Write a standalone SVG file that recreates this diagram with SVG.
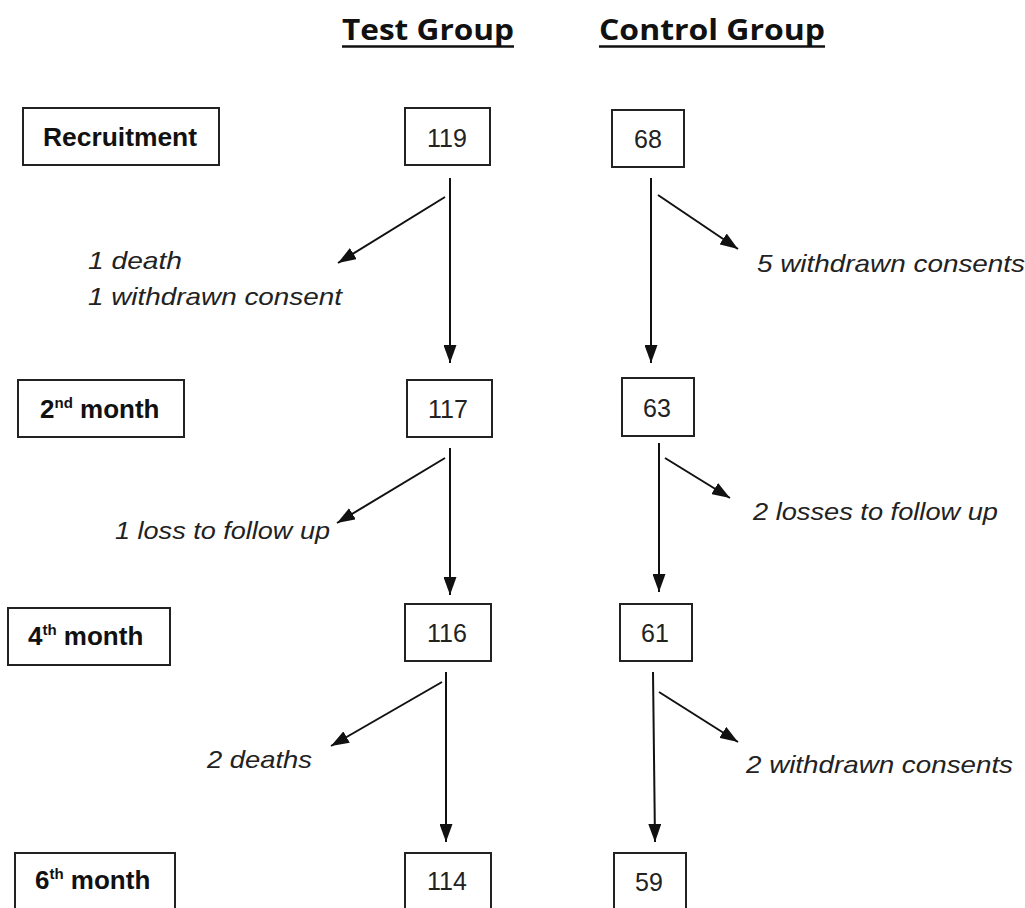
<svg xmlns="http://www.w3.org/2000/svg" width="1025" height="908" viewBox="0 0 1025 908">
<style>
.box{fill:#fff;stroke:#222;stroke-width:2}
.lbl{font-family:"Liberation Sans",Arial,sans-serif;font-weight:bold;font-size:26px;fill:#111}
.num{font-family:"Liberation Sans",Arial,sans-serif;font-size:25px;fill:#222;text-anchor:middle}
.it{font-family:"Liberation Sans",Arial,sans-serif;font-style:italic;font-size:24px;fill:#222}
.ttl{font-family:"Open Sans","Liberation Sans",sans-serif;font-weight:bold;font-size:28px;fill:#111}
.con{stroke:#111;stroke-width:2;fill:none;marker-end:url(#ah)}
</style>
<defs>
<marker id="ah" markerUnits="userSpaceOnUse" markerWidth="18" markerHeight="13" refX="18" refY="6.5" orient="auto">
<path d="M0,0 L18,6.5 L0,13 z" fill="#111"/>
</marker>
</defs>
<rect width="1025" height="908" fill="#fff"/>
<g id="titles">
<text class="ttl" x="342" y="40" textLength="172" lengthAdjust="spacingAndGlyphs">Test Group</text>
<line x1="342" y1="46.5" x2="514" y2="46.5" stroke="#111" stroke-width="2.5"/>
<text class="ttl" x="599" y="40" textLength="226" lengthAdjust="spacingAndGlyphs">Control Group</text>
<line x1="599" y1="46.5" x2="825" y2="46.5" stroke="#111" stroke-width="2.5"/>
</g>
<g id="row-recruitment">
<rect class="box" x="23" y="108" width="196" height="57"/>
<text class="lbl" x="43" y="146" textLength="154" lengthAdjust="spacingAndGlyphs">Recruitment</text>
</g>
<g id="row-2nd">
<rect class="box" x="18" y="380" width="166" height="57"/>
<text class="lbl" x="40" y="418" font-size="27">2<tspan font-size="15" dy="-10">nd</tspan><tspan dy="10"> month</tspan></text>
</g>
<g id="row-4th">
<rect class="box" x="8" y="608" width="162" height="57"/>
<text class="lbl" x="28" y="645" font-size="27">4<tspan font-size="15" dy="-10">th</tspan><tspan dy="10"> month</tspan></text>
</g>
<g id="row-6th">
<rect class="box" x="15" y="853" width="160" height="57"/>
<text class="lbl" x="35" y="889" font-size="27">6<tspan font-size="15" dy="-10">th</tspan><tspan dy="10"> month</tspan></text>
</g>
<g id="test-119"><rect class="box" x="405" y="108" width="85" height="57"/><text class="num" x="447" y="147">119</text></g>
<g id="test-117"><rect class="box" x="407" y="380" width="85" height="57"/><text class="num" x="448" y="418">117</text></g>
<g id="test-116"><rect class="box" x="405" y="604" width="86" height="57"/><text class="num" x="447" y="642">116</text></g>
<g id="test-114"><rect class="box" x="405" y="853" width="86" height="57"/><text class="num" x="447" y="890">114</text></g>
<g id="ctrl-68"><rect class="box" x="612" y="110" width="72" height="57"/><text class="num" x="648" y="148">68</text></g>
<g id="ctrl-63"><rect class="box" x="622" y="378" width="72" height="58"/><text class="num" x="657" y="417">63</text></g>
<g id="ctrl-61"><rect class="box" x="620" y="604" width="72" height="57"/><text class="num" x="655" y="642">61</text></g>
<g id="ctrl-59"><rect class="box" x="614" y="853" width="72" height="57"/><text class="num" x="649" y="891">59</text></g>
<g id="connectors">
<line class="con" x1="450" y1="178" x2="450" y2="363"/>
<line class="con" x1="445" y1="197" x2="338" y2="263"/>
<line class="con" x1="450" y1="448" x2="450" y2="595"/>
<line class="con" x1="445" y1="458" x2="337" y2="523"/>
<line class="con" x1="446" y1="672" x2="446" y2="842"/>
<line class="con" x1="442" y1="682" x2="331" y2="746"/>
<line class="con" x1="651" y1="178" x2="651" y2="363"/>
<line class="con" x1="658" y1="195" x2="738" y2="249"/>
<line class="con" x1="659" y1="443" x2="659" y2="592"/>
<line class="con" x1="665" y1="458" x2="730" y2="498"/>
<line class="con" x1="653" y1="672" x2="655" y2="842"/>
<line class="con" x1="659" y1="692" x2="738" y2="742"/>
</g>
<g id="labels">
<text class="it" x="88" y="269" textLength="94" lengthAdjust="spacingAndGlyphs">1 death</text>
<text class="it" x="88" y="305" textLength="254" lengthAdjust="spacingAndGlyphs">1 withdrawn consent</text>
<text class="it" x="115" y="539" textLength="215" lengthAdjust="spacingAndGlyphs">1 loss to follow up</text>
<text class="it" x="207" y="768" textLength="105" lengthAdjust="spacingAndGlyphs">2 deaths</text>
<text class="it" x="757" y="272" textLength="268" lengthAdjust="spacingAndGlyphs">5 withdrawn consents</text>
<text class="it" x="753" y="520" textLength="245" lengthAdjust="spacingAndGlyphs">2 losses to follow up</text>
<text class="it" x="746" y="773" textLength="267" lengthAdjust="spacingAndGlyphs">2 withdrawn consents</text>
</g>
</svg>
